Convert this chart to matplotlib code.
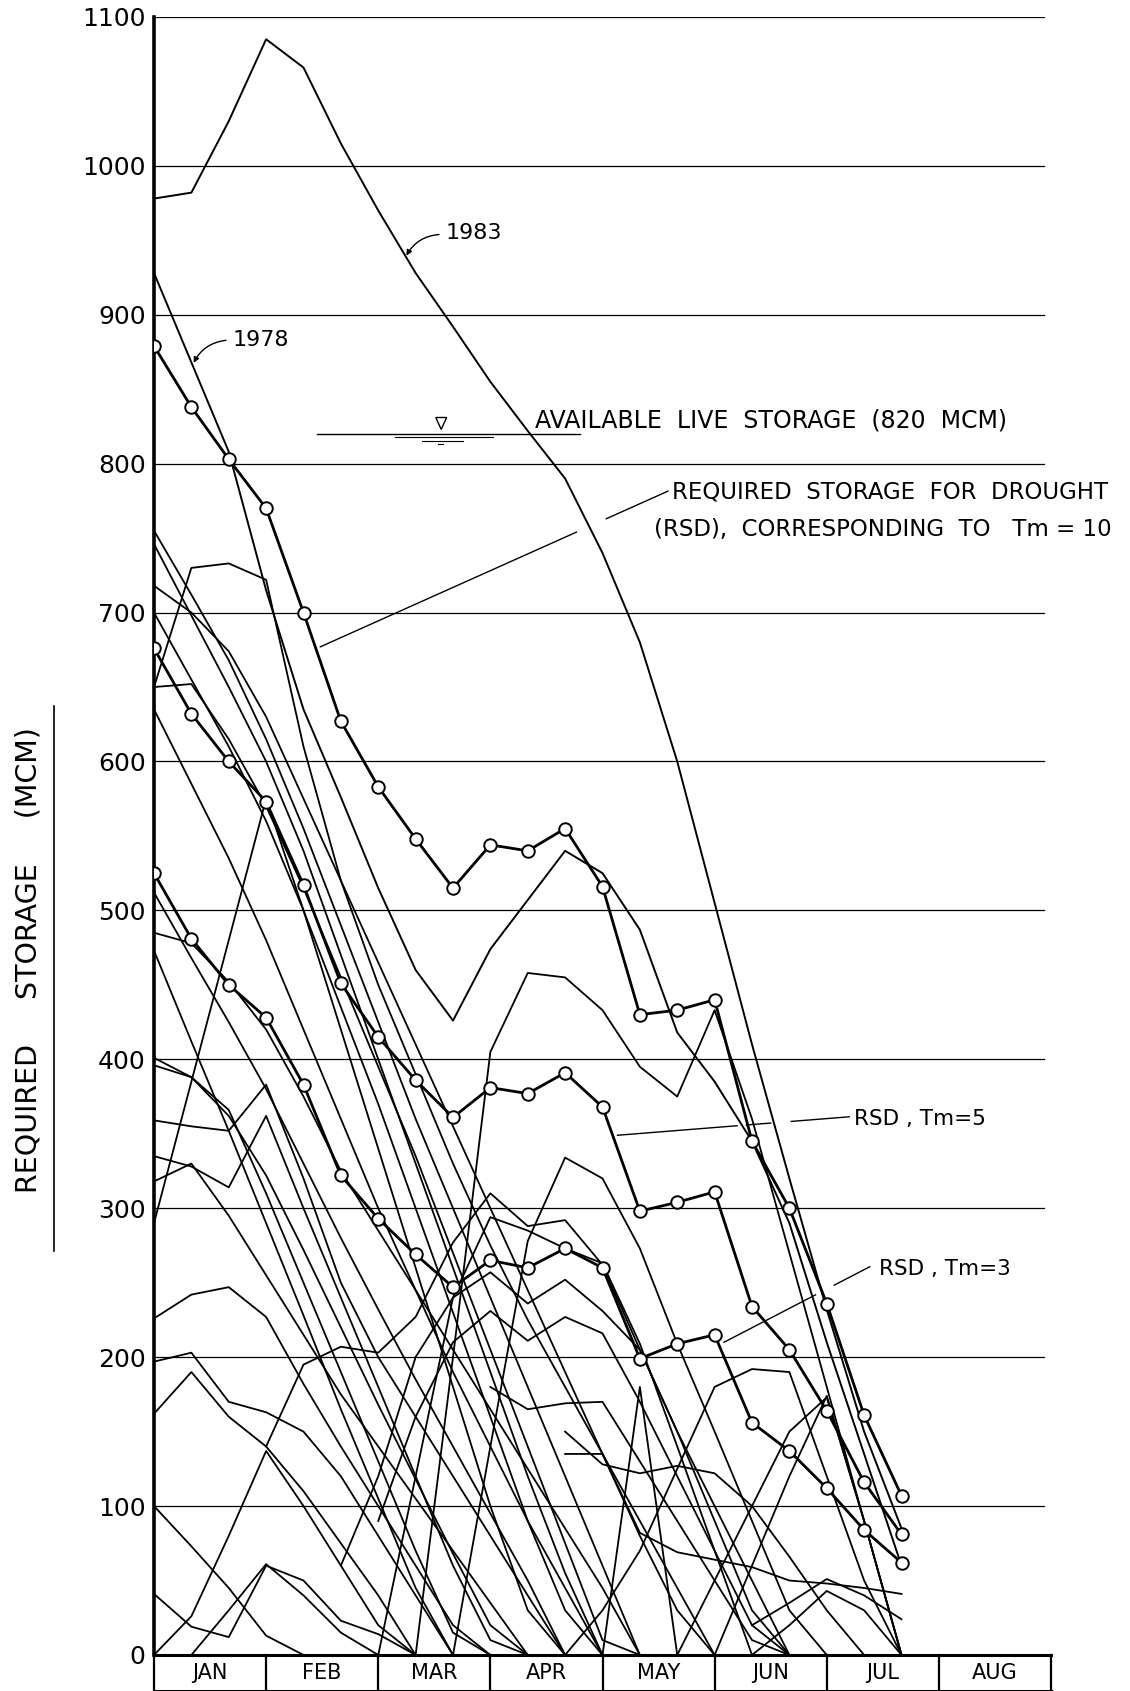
import numpy as np
import matplotlib.pyplot as plt
from matplotlib.lines import Line2D

plt.rcParams['font.family'] = ['DejaVu Sans']

# x axis: dekad index (0 = 1 Jan, 3 dekads per month)
MONTHS = ["JAN", "FEB", "MAR", "APR", "MAY", "JUN", "JUL", "AUG"]
Y_TICKS = list(range(0, 1101, 100))

# required storage for drought (MCM), dekads 0..20
rsd_tm10 = [879, 838, 803, 770, 700, 627, 583, 548, 515, 544, 540, 555, 516, 430, 433, 440, 345, 300, 236, 161, 107]
rsd_tm5 = [676, 632, 600, 573, 517, 451, 415, 386, 361, 381, 377, 391, 368, 298, 304, 311, 234, 205, 164, 116, 81]
rsd_tm3 = [525, 481, 450, 428, 383, 322, 293, 269, 247, 265, 260, 273, 260, 199, 209, 215, 156, 137, 112, 84, 62]

year_1983 = [978, 982, 1030, 1085, 1066, 1015, 970, 928, 892, 855, 822, 790, 740, 680, 600, 505, 410, 320, 232, 150, 85]
year_1978 = [928, 868, 808, 715, 635, 576, 515, 460, 426, 474, 507, 540, 525, 487, 418, 385, 345, 290, 210, 135, 60]

# other years: (first dekad, values)
high_years = [
    (0, [755, 712, 668, 615, 555, 490, 425, 360, 300, 240, 180, 120, 60, 0]),
    (0, [746, 698, 650, 600, 540, 470, 400, 330, 260, 190, 120, 55, 0]),
    (0, [718, 700, 674, 630, 575, 520, 465, 410, 355, 300, 245, 190, 135, 80, 30, 0]),
    (0, [700, 655, 610, 560, 500, 435, 370, 300, 230, 160, 90, 30, 0]),
    (0, [650, 730, 733, 722, 610, 520, 450, 390, 330, 275, 225, 180, 135, 90, 45, 0]),
    (0, [650, 652, 615, 570, 515, 455, 395, 335, 270, 205, 140, 75, 10, 0]),
    (0, [635, 585, 535, 480, 420, 360, 300, 245, 190, 140, 90, 45, 0]),
]
mid_years = [
    (0, [512, 468, 425, 380, 330, 280, 232, 185, 140, 95, 50, 0]),
    (0, [485, 478, 452, 420, 375, 325, 285, 245, 205, 165, 125, 85, 45, 0]),
    (0, [473, 412, 352, 290, 228, 165, 105, 45, 0]),
    (0, [401, 388, 362, 322, 272, 220, 168, 118, 68, 20, 0]),
    (0, [290, 385, 480, 575, 500, 420, 340, 260, 180, 100, 30, 0]),
]
low_years = [
    (0, [396, 388, 366, 310, 250, 190, 130, 70, 15, 0]),
    (0, [359, 355, 352, 383, 320, 250, 200, 160, 120, 80, 40, 0]),
    (0, [335, 328, 314, 362, 300, 240, 180, 120, 60, 10, 0]),
    (0, [318, 330, 295, 255, 215, 175, 140, 105, 70, 35, 0]),
    (0, [226, 242, 247, 227, 182, 140, 100, 60, 20, 0]),
    (0, [197, 203, 170, 163, 150, 120, 80, 40, 0]),
    (0, [162, 190, 160, 140, 110, 75, 40, 0]),
    (0, [100, 73, 45, 13, 0]),
    (0, [41, 19, 12, 60, 50, 23, 14, 0]),
    (0, [0, 26, 80, 137, 100, 60, 20, 0]),
    (1, [0, 30, 61, 40, 15, 0]),
]
spring_years = [
    (7, [0, 200, 405, 458, 455, 433, 395, 375, 433, 360, 270, 180, 90, 0]),
    (8, [0, 140, 278, 334, 320, 273, 209, 150, 90, 30, 0]),
    (3, [140, 195, 207, 203, 227, 277, 310, 288, 292, 262, 205, 150, 100, 50, 0]),
    (6, [0, 120, 240, 294, 285, 273, 263, 209, 140, 70, 0]),
    (5, [60, 120, 200, 240, 257, 236, 252, 231, 205, 150, 90, 30, 0]),
    (6, [90, 160, 210, 231, 211, 227, 216, 170, 120, 70, 20, 0]),
    (9, [180, 165, 169, 170, 130, 90, 50, 10, 0]),
]
summer_years = [
    (11, [0, 30, 70, 125, 180, 192, 190, 120, 50, 0]),
    (12, [0, 180, 0]),
    (11, [150, 128, 122, 127, 122, 100, 66, 30, 0]),
    (11, [135, 135, 82, 69, 64, 59, 50, 48, 45, 41]),
    (15, [0, 60, 120, 174, 90, 0]),
    (16, [0, 20, 43, 30, 0]),
    (16, [20, 35, 51, 40, 24]),
    (14, [0, 50, 100, 150, 173, 90, 0]),
]

fig = plt.figure(figsize=(11.3, 16.91), dpi=100)
ax = fig.add_axes([154 / 1130, 0.0213, 897 / 1130, 0.9687])
ax.set_xlim(0, 24)
ax.set_ylim(0, 1100)

for s in ["top", "right", "bottom"]:
    ax.spines[s].set_visible(False)
ax.spines["left"].set_linewidth(2.6)
ax.set_xticks([])
ax.set_yticks(Y_TICKS)
ax.set_yticklabels([str(v) for v in Y_TICKS], fontsize=18)
ax.tick_params(axis="y", length=0, pad=6)

# horizontal grid
for v in Y_TICKS[1:]:
    ax.plot([0, 23.8], [v, v], color="black", lw=0.9, zorder=1)

# month boxes under the axis
ax.plot([0, 24], [0, 0], color="black", lw=2.2, clip_on=False, zorder=5)
ax.plot([0, 24], [-24, -24], color="black", lw=2.2, clip_on=False)
for k in range(len(MONTHS) + 1):
    ax.plot([3 * k, 3 * k], [0, -25], color="black", lw=1.6, clip_on=False)
for k, m in enumerate(MONTHS):
    ax.text(3 * k + 1.5, -12, m, ha="center", va="center", fontsize=15)

# year curves
for grp in [high_years, mid_years, low_years, spring_years, summer_years]:
    for s, vals in grp:
        ax.plot(range(s, s + len(vals)), vals, color="black", lw=1.3, zorder=2)
ax.plot(range(len(year_1983)), year_1983, color="black", lw=1.4, zorder=2)
ax.plot(range(len(year_1978)), year_1978, color="black", lw=1.4, zorder=2)

# RSD curves
for ser in [rsd_tm10, rsd_tm5, rsd_tm3]:
    ax.plot(range(len(ser)), ser, color="black", lw=2.0, marker="o", ms=9,
            mfc="white", mec="black", mew=1.4, zorder=4)

# labels for the two years
ax.text(7.8, 955, "1983", fontsize=16, va="center", ha="left")
ax.annotate("", xy=(6.72, 938), xytext=(7.7, 954),
            arrowprops=dict(arrowstyle="-|>", lw=1.0, color="black",
                            connectionstyle="arc3,rad=0.3", mutation_scale=8))
ax.text(2.1, 883, "1978", fontsize=16, va="center", ha="left")
ax.annotate("", xy=(1.03, 866), xytext=(2.0, 883),
            arrowprops=dict(arrowstyle="-|>", lw=1.0, color="black",
                            connectionstyle="arc3,rad=0.3", mutation_scale=8))

# live storage level
ax.plot([4.35, 11.4], [820, 820], color="black", lw=1.0, zorder=3)
ax.plot([6.44, 9.06], [818, 818], color="black", lw=0.8)
ax.plot([7.16, 8.26], [815.5, 815.5], color="black", lw=0.8)
ax.plot([7.59, 7.72], [813, 813], color="black", lw=0.8)
ax.fill([7.54, 7.83, 7.685], [831, 831, 823], facecolor="white", edgecolor="black", lw=1.0, zorder=4)
ax.text(10.2, 829, "AVAILABLE  LIVE  STORAGE  (820  MCM)", fontsize=17, va="center", ha="left")

# RSD labels and leaders
ax.text(13.85, 781, "REQUIRED  STORAGE  FOR  DROUGHT", fontsize=16.5, va="center", ha="left")
ax.text(13.37, 756, "(RSD),  CORRESPONDING  TO   Tm = 10", fontsize=16.5, va="center", ha="left")
lead10 = lambda x: 677 + 11.24 * (x - 4.45)
for a, b in [(4.45, 11.3), (12.1, 13.75)]:
    ax.plot([a, b], [lead10(a), lead10(b)], color="black", lw=1.0)

ax.text(18.74, 360, "RSD , Tm=5", fontsize=15.5, va="center", ha="left")
lead5 = lambda x: 349 + 2.0 * (x - 12.4)
for a, b in [(12.4, 15.6), (15.85, 16.5), (17.05, 18.6)]:
    ax.plot([a, b], [lead5(a), lead5(b)], color="black", lw=1.0)

ax.text(19.4, 259, "RSD , Tm=3", fontsize=15.5, va="center", ha="left")
lead3 = lambda x: 210 + 13.0 * (x - 15.25)
for a, b in [(15.25, 17.7), (18.2, 19.15)]:
    ax.plot([a, b], [lead3(a), lead3(b)], color="black", lw=1.0)

# y label with underline
fig.text(29 / 1130, 1 - 960 / 1691, "REQUIRED     STORAGE     (MCM)", rotation=90,
         fontsize=20.5, ha="center", va="center")
fig.add_artist(Line2D([54 / 1130, 54 / 1130], [1 - 706 / 1691, 1 - 1251 / 1691],
                      color="black", lw=1.2))

fig.savefig("out.png", dpi=100)
